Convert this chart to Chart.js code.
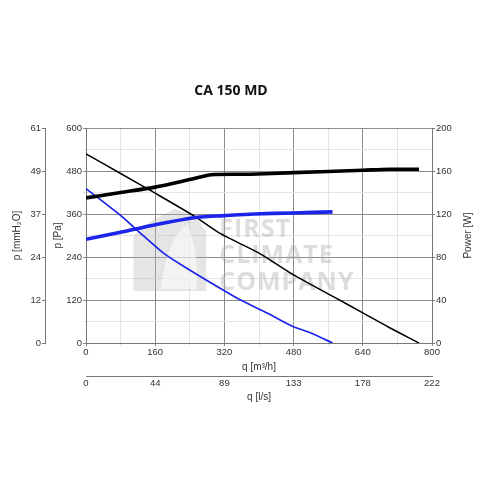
<!DOCTYPE html>
<html>
<head>
<meta charset="utf-8">
<script src="https://cdn.jsdelivr.net/npm/chart.js@4/dist/chart.umd.min.js"></script>
<style>
html,body{margin:0;padding:0;background:#fff;}
#wrap{width:500px;height:500px;position:relative;}
</style>
</head>
<body>
<div id="wrap"><canvas id="c" width="500" height="500"></canvas></div>
<script>
// ---- data ----
const chartTitle = 'CA 150 MD';
// black model: pressure curve (Pa) and power curve (W)
const blackPressQ = [0, 80, 160, 253, 311, 400, 480, 574, 640, 700, 770];
const blackPressPa = [528, 473, 418, 352, 305, 251, 190, 128, 84, 44, 0];
const blackPowerQ = [0, 80, 160, 240, 290, 380, 480, 640, 700, 770];
const blackPowerW = [135, 140, 145, 152, 156.5, 157, 158.5, 160.7, 161.6, 161.6];
// blue model: pressure curve (Pa) and power curve (W)
const bluePressQ = [0, 80, 118, 180, 234, 311, 354, 420, 477, 520, 570];
const bluePressPa = [431, 356, 315, 250, 208, 152, 122, 83, 47, 28, 0];
const bluePowerQ = [0, 80, 160, 257, 320, 388, 480, 570];
const bluePowerW = [96.5, 103, 110, 117, 118.5, 120, 121, 122];
// tick labels
const mmTicks = ['0', '12', '24', '37', '49', '61'];
const lsTicks = ['0', '44', '89', '133', '178', '222'];
const watermarkLines = ['FIRST', 'CLIMATE', 'COMPANY'];

const pts = (xs, ys) => xs.map((x, i) => ({x: x, y: ys[i]}));

const FONT = 'Liberation Sans, Arial, DejaVu Sans, sans-serif';
const tickFont = {family: FONT, size: 9.5};
const titleFont = {family: FONT, size: 10};
const TXT = '#333';
const AXIS = '#777';
const MAJOR = '#8c8c8c';
const MINOR = '#e4e4e4';
const BLUE = 'rgb(28,36,235)';

const extras = {
  id: 'extras',
  beforeDatasetsDraw(chart) {
    const ctx = chart.ctx;
    const xs = chart.scales.x, ys = chart.scales.y;
    const X = v => xs.getPixelForValue(v), Y = v => ys.getPixelForValue(v);
    ctx.save();
    // faint logo shape
    ctx.fillStyle = 'rgba(175,175,175,0.33)';
    ctx.beginPath();
    ctx.moveTo(X(110), Y(300));
    ctx.lineTo(X(150), Y(340));
    ctx.lineTo(X(205), Y(375));
    ctx.lineTo(X(255), Y(350));
    ctx.lineTo(X(278), Y(310));
    ctx.lineTo(X(278), Y(145));
    ctx.lineTo(X(110), Y(145));
    ctx.closePath();
    ctx.fill();
    ctx.fillStyle = 'rgba(255,255,255,0.55)';
    ctx.beginPath();
    ctx.moveTo(X(172), Y(150));
    ctx.quadraticCurveTo(X(190), Y(300), X(235), Y(330));
    ctx.quadraticCurveTo(X(262), Y(250), X(255), Y(150));
    ctx.closePath();
    ctx.fill();
    // watermark text
    ctx.fillStyle = 'rgba(175,175,175,0.42)';
    ctx.font = 'bold 25px "Open Sans", sans-serif';
    ctx.textBaseline = 'alphabetic';
    ctx.textAlign = 'left';
    try { ctx.letterSpacing = '1px'; } catch (e) {}
    const x0 = X(308);
    const baseY = [Y(295), Y(222), Y(148)];
    watermarkLines.forEach((t, i) => ctx.fillText(t, x0, baseY[i]));
    ctx.restore();
  },
  afterDraw(chart) {
    const ctx = chart.ctx;
    ctx.save();
    ctx.fillStyle = '#111';
    ctx.font = 'bold 14px "Open Sans", sans-serif';
    ctx.textAlign = 'center';
    ctx.textBaseline = 'middle';
    ctx.fillText(chartTitle, 231, 91);
    // right axis title, reading bottom to top
    const a = chart.chartArea;
    ctx.fillStyle = TXT;
    ctx.font = '10px ' + FONT;
    ctx.translate(468, (a.top + a.bottom) / 2);
    ctx.rotate(-Math.PI / 2);
    ctx.fillText('Power [W]', 0, 0);
    ctx.restore();
  }
};

new Chart(document.getElementById('c'), {
  type: 'line',
  data: {
    datasets: [
      {data: pts(blackPowerQ, blackPowerW), yAxisID: 'y2', borderColor: '#000', borderWidth: 3.6},
      {data: pts(bluePowerQ, bluePowerW), yAxisID: 'y2', borderColor: BLUE, borderWidth: 3.6},
      {data: pts(blackPressQ, blackPressPa), yAxisID: 'y', borderColor: '#000', borderWidth: 1.5},
      {data: pts(bluePressQ, bluePressPa), yAxisID: 'y', borderColor: BLUE, borderWidth: 1.7}
    ]
  },
  options: {
    responsive: false,
    animation: false,
    events: [],
    layout: {padding: {top: 128, left: 8, right: 20, bottom: 95}},
    elements: {
      point: {radius: 0},
      line: {tension: 0.25, fill: false, borderCapStyle: 'butt'}
    },
    plugins: {legend: {display: false}, title: {display: false}, tooltip: {enabled: false}},
    scales: {
      x: {
        type: 'linear', position: 'bottom', weight: 0, min: 0, max: 800,
        afterFit: s => { s.height = 33; },
        ticks: {stepSize: 80, autoSkip: false, maxRotation: 0, padding: 1, color: TXT, font: tickFont,
          callback: v => (v % 160 === 0 ? String(v) : '')},
        grid: {color: c => (c.tick && c.tick.value % 160 === 0 ? MAJOR : MINOR), tickLength: 3, lineWidth: 1},
        border: {color: AXIS},
        title: {display: true, text: 'q [m³/h]', color: TXT, font: titleFont, padding: {top: 0, bottom: 3}}
      },
      x2: {
        type: 'linear', position: 'bottom', weight: 1, min: 0, max: 800,
        afterFit: s => { s.height = 29; },
        ticks: {stepSize: 160, autoSkip: false, maxRotation: 0, padding: 2, color: TXT, font: tickFont,
          callback: (v, i) => lsTicks[i]},
        grid: {drawOnChartArea: false, drawTicks: false, color: AXIS},
        border: {color: AXIS},
        title: {display: true, text: 'q [l/s]', color: TXT, font: titleFont, padding: {top: 0, bottom: 2}}
      },
      mm: {
        type: 'linear', position: 'left', weight: 1, min: 0, max: 600,
        afterFit: s => { s.width = 37; },
        ticks: {stepSize: 120, autoSkip: false, padding: 1, color: TXT, font: tickFont,
          callback: (v, i) => mmTicks[i]},
        grid: {drawOnChartArea: false, tickLength: 3, color: AXIS},
        border: {color: AXIS},
        title: {display: true, text: 'p [mmH₂O]', color: TXT, font: titleFont, padding: {top: 3, bottom: 0}}
      },
      y: {
        type: 'linear', position: 'left', weight: 0, min: 0, max: 600,
        afterFit: s => { s.width = 41; },
        ticks: {stepSize: 60, autoSkip: false, padding: 1, color: TXT, font: tickFont,
          callback: v => (v % 120 === 0 ? String(v) : '')},
        grid: {color: c => (c.tick && c.tick.value % 120 === 0 ? MAJOR : MINOR), tickLength: 3, lineWidth: 1},
        border: {color: AXIS},
        title: {display: true, text: 'p [Pa]', color: TXT, font: titleFont, padding: {top: 7, bottom: 0}}
      },
      y2: {
        type: 'linear', position: 'right', min: 0, max: 200,
        afterFit: s => { s.width = 48; },
        ticks: {stepSize: 40, autoSkip: false, padding: 1, color: TXT, font: tickFont},
        grid: {drawOnChartArea: false, tickLength: 3, color: AXIS},
        border: {color: AXIS},
        title: {display: false}
      }
    }
  },
  plugins: [extras]
});
</script>
</body>
</html>
